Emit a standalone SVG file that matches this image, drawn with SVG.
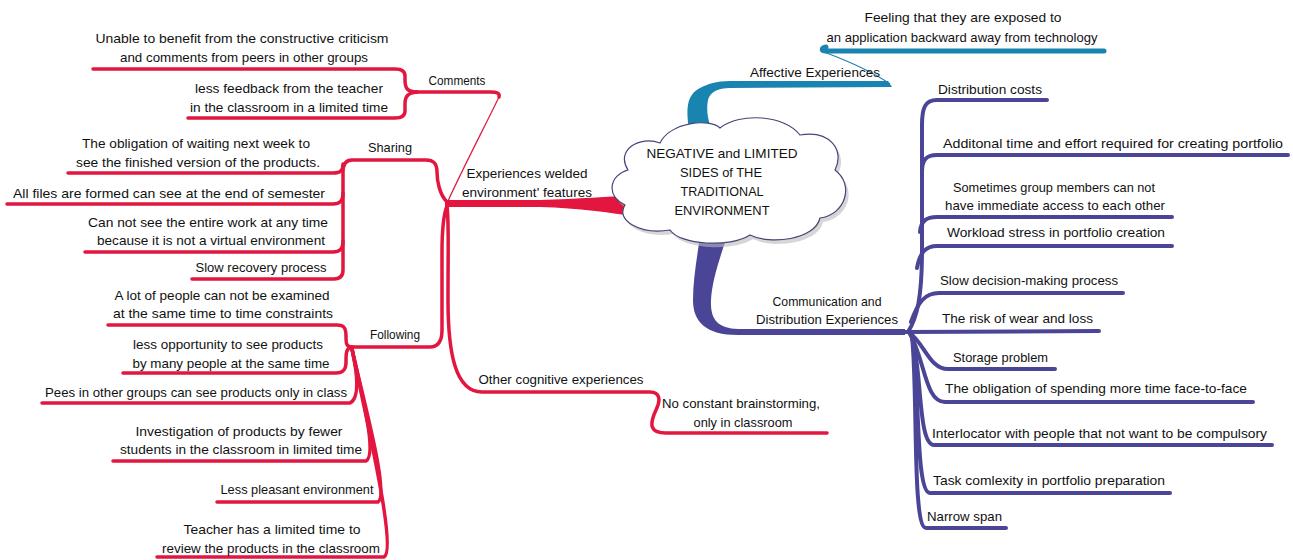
<svg xmlns="http://www.w3.org/2000/svg" width="1293" height="560" viewBox="0 0 1293 560">
<style>
text{font-family:"Liberation Sans",Arial,sans-serif;font-size:13.5px;fill:#111;}
.m{text-anchor:middle;}
.r{fill:none;stroke:#e2163f;stroke-width:3.5;stroke-linecap:round;stroke-linejoin:round;}
.rt{fill:none;stroke:#e2163f;stroke-width:1.2;stroke-linecap:round;}
.b{fill:none;stroke:#1a84b0;stroke-width:5;stroke-linecap:round;}
.bt{fill:none;stroke:#1a84b0;stroke-width:1.2;}
.p{fill:none;stroke:#4a4596;stroke-width:4;stroke-linecap:round;stroke-linejoin:round;}
</style>
<rect width="1293" height="560" fill="#ffffff"/>
<g id="connectors">
  <path d="M445,200 L540,200 C580,199 610,196 630,196 L633,216 C610,213 580,208 540,207 L445,207 Z" fill="#e2163f"/>
  <path class="rt" d="M448,201 C462,170 488,120 499,97"/>
  <path class="r" d="M499,97 C500,93 497,92 490,92 L417,92"/>
  <path class="r" d="M417,92 C407,92 405,88 405,80 L405,76 C405,71 401,69 395,69 L93,69"/>
  <path class="r" d="M417,92 C407,93 405,97 405,104 L405,111 C405,116 401,118 395,118 L188,118"/>
  <path class="r" d="M447,202 C440,195 437,182 437,172 C437,163 433,160 426,160 L352,160 C346,160 343,164 343,172 L343,270 C343,276 340,279 334,279 L192,279"/>
  <path class="r" d="M343,164 C343,171 340,173 333,173 L68,173"/>
  <path class="r" d="M343,193 C343,201 340,204 333,204 L7,204"/>
  <path class="r" d="M343,241 C343,249 340,252 333,252 L85,252"/>
  <path class="r" d="M447,206 C443,216 442,232 442,252 L442,330 C442,342 438,347 430,347 L352,347"/>
  <path class="r" d="M352,347 C346,347 346,343 346,336 C346,328 344,325 337,325 L108,325"/>
  <path class="r" d="M352,347 C346,348 346,353 346,362 C346,370 343,373 336,373 L123,373"/>
  <path class="r" d="M352,349 C357,372 360,398 350,403 L42,403"/>
  <path class="r" d="M352,349 C360,385 378,455 366,461 L113,461"/>
  <path class="r" d="M352,349 C362,395 390,495 378,502 L217,502"/>
  <path class="r" d="M352,349 C364,410 398,550 384,557 L157,557"/>
  <path class="r" d="M447,206 C449,220 448,245 448,300 C448,352 455,392 482,392 L650,392 C660,392 661,400 656,410 C649,425 650,433 666,433 L827,433"/>
  <path d="M689,130 C686,110 686,95 700,88 C708,84 716,81 730,81 L888,81 L892,87 L730,88 C718,88 710,92 708,100 C706,110 708,120 711,128 Z" fill="#1a84b0"/>
  <path class="bt" d="M890,84 C870,70 840,58 824,52"/>
  <path class="b" d="M826,47 C821,48 821,51 826,51 L1104,51"/>
  <path d="M700,236 L727,236 C720,258 712,280 711,300 C710,322 720,329 742,329 L905,329 L905,335 L738,335 C706,335 693,322 693,300 C693,280 697,258 700,236 Z" fill="#4a4596"/>
  <path class="p" d="M908,332 C917,318 922,298 922,250 L922,125 C922,108 925,100 937,100 L1047,100"/>
  <path class="p" d="M922,172 C922,160 926,155 937,155 L1288,155"/>
  <path class="p" d="M920,232 C921,221 926,217 937,217 L1172,217"/>
  <path class="p" d="M917,268 C920,252 926,246 937,246 L1172,246"/>
  <path class="p" d="M911,322 C918,302 925,293 939,293 L1123,293"/>
  <path class="p" d="M903,332 L1099,331"/>
  <path class="p" d="M910,333 C925,345 930,369 948,369 L1055,369"/>
  <path class="p" d="M910,334 C925,360 925,402 945,402 L1253,402"/>
  <path class="p" d="M912,335 C922,372 918,445 934,445 L1272,445"/>
  <path class="p" d="M912,336 C920,382 915,493 930,493 L1170,493"/>
  <path class="p" d="M912,336 C918,392 912,528 926,528 L1006,528"/>
</g>
<g id="center">
  <path d="M631,174 C618,154 643,139 663,147 C673,126 713,122 723,132 C743,116 788,119 803,139 C833,134 848,154 838,174 C858,189 848,219 823,222 C818,244 773,249 753,239 C733,252 683,249 673,234 C643,239 618,224 628,209 C608,199 613,179 631,174 Z" fill="#bbbbbb" opacity="0.6"/>
  <path d="M628,170 C615,150 640,135 660,143 C670,122 710,118 720,128 C740,112 785,115 800,135 C830,130 845,150 835,170 C855,185 845,215 820,218 C815,240 770,245 750,235 C730,248 680,245 670,230 C640,235 615,220 625,205 C605,195 610,175 628,170 Z" fill="#ffffff" stroke="#45457a" stroke-width="1.2"/>
  <text class="m" x="722" y="158" textLength="151" lengthAdjust="spacingAndGlyphs">NEGATIVE and LIMITED</text>
  <text class="m" x="721" y="177" textLength="82" lengthAdjust="spacingAndGlyphs">SIDES of THE</text>
  <text class="m" x="722" y="196" textLength="83" lengthAdjust="spacingAndGlyphs">TRADITIONAL</text>
  <text class="m" x="722" y="215" textLength="95" lengthAdjust="spacingAndGlyphs">ENVIRONMENT</text>
</g>
<g id="n-unable"><text class="m" x="242" y="43" textLength="293" lengthAdjust="spacingAndGlyphs">Unable to benefit from the constructive criticism</text><text class="m" x="244" y="62" textLength="248" lengthAdjust="spacingAndGlyphs">and comments from peers in other groups</text></g>
<g id="n-lessfeedback"><text class="m" x="289" y="93" textLength="188" lengthAdjust="spacingAndGlyphs">less feedback from the teacher</text><text class="m" x="289" y="112" textLength="198" lengthAdjust="spacingAndGlyphs">in the classroom in a limited time</text></g>
<g id="n-comments"><text class="m" x="457" y="85" textLength="57" lengthAdjust="spacingAndGlyphs">Comments</text></g>
<g id="n-sharing"><text class="m" x="390" y="152" textLength="44" lengthAdjust="spacingAndGlyphs">Sharing</text></g>
<g id="n-obligation"><text class="m" x="196" y="148" textLength="228" lengthAdjust="spacingAndGlyphs">The obligation of waiting next week to</text><text class="m" x="198" y="167" textLength="244" lengthAdjust="spacingAndGlyphs">see the finished version of the products.</text></g>
<g id="n-allfiles"><text class="m" x="169" y="198" textLength="312" lengthAdjust="spacingAndGlyphs">All files are formed can see at the end of semester</text></g>
<g id="n-cannotsee"><text class="m" x="208" y="227" textLength="240" lengthAdjust="spacingAndGlyphs">Can not see the entire work at any time</text><text class="m" x="211" y="245" textLength="228" lengthAdjust="spacingAndGlyphs">because it is not a virtual environment</text></g>
<g id="n-slowrecovery"><text class="m" x="261" y="272" textLength="131" lengthAdjust="spacingAndGlyphs">Slow recovery process</text></g>
<g id="n-alot"><text class="m" x="222" y="300" textLength="215" lengthAdjust="spacingAndGlyphs">A lot of people can not be examined</text><text class="m" x="223" y="318" textLength="220" lengthAdjust="spacingAndGlyphs">at the same time to time constraints</text></g>
<g id="n-following"><text class="m" x="395" y="339" textLength="50" lengthAdjust="spacingAndGlyphs">Following</text></g>
<g id="n-lessopp"><text class="m" x="228" y="349" textLength="190" lengthAdjust="spacingAndGlyphs">less opportunity to see products</text><text class="m" x="231" y="368" textLength="197" lengthAdjust="spacingAndGlyphs">by many people at the same time</text></g>
<g id="n-pees"><text class="m" x="196" y="397" textLength="302" lengthAdjust="spacingAndGlyphs">Pees in other groups can see products only in class</text></g>
<g id="n-investigation"><text class="m" x="239" y="436" textLength="207" lengthAdjust="spacingAndGlyphs">Investigation of products by fewer</text><text class="m" x="241" y="454" textLength="242" lengthAdjust="spacingAndGlyphs">students in the classroom in limited time</text></g>
<g id="n-lesspleasant"><text class="m" x="297" y="494" textLength="153" lengthAdjust="spacingAndGlyphs">Less pleasant environment</text></g>
<g id="n-teacher"><text class="m" x="272" y="534" textLength="177" lengthAdjust="spacingAndGlyphs">Teacher has a limited time to</text><text class="m" x="271" y="553" textLength="218" lengthAdjust="spacingAndGlyphs">review the products in the classroom</text></g>
<g id="n-welded"><text class="m" x="527" y="178" textLength="121" lengthAdjust="spacingAndGlyphs">Experiences welded</text><text class="m" x="527" y="197" textLength="130" lengthAdjust="spacingAndGlyphs">environment' features</text></g>
<g id="n-othercog"><text class="m" x="561" y="384" textLength="165" lengthAdjust="spacingAndGlyphs">Other cognitive experiences</text></g>
<g id="n-noconstant"><text class="m" x="741" y="408" textLength="158" lengthAdjust="spacingAndGlyphs">No constant brainstorming,</text><text class="m" x="743" y="427" textLength="99" lengthAdjust="spacingAndGlyphs">only in classroom</text></g>
<g id="n-affective"><text class="m" x="815" y="77" textLength="130" lengthAdjust="spacingAndGlyphs">Affective Experiences</text></g>
<g id="n-feeling"><text class="m" x="963" y="22" textLength="197" lengthAdjust="spacingAndGlyphs">Feeling that they are exposed to</text><text class="m" x="962" y="42" textLength="271" lengthAdjust="spacingAndGlyphs">an application backward away from technology</text></g>
<g id="n-communication"><text class="m" x="827" y="306" textLength="109" lengthAdjust="spacingAndGlyphs">Communication and</text><text class="m" x="827" y="324" textLength="142" lengthAdjust="spacingAndGlyphs">Distribution Experiences</text></g>
<g id="n-distcosts"><text x="938" y="94" textLength="104" lengthAdjust="spacingAndGlyphs">Distribution costs</text></g>
<g id="n-additonal"><text x="943" y="148" textLength="340" lengthAdjust="spacingAndGlyphs">Additonal time and effort required for creating portfolio</text></g>
<g id="n-sometimes"><text class="m" x="1054" y="192" textLength="202" lengthAdjust="spacingAndGlyphs">Sometimes group members can not</text><text class="m" x="1055" y="210" textLength="220" lengthAdjust="spacingAndGlyphs">have immediate access to each other</text></g>
<g id="n-workload"><text x="947" y="237" textLength="218" lengthAdjust="spacingAndGlyphs">Workload stress in portfolio creation</text></g>
<g id="n-slowdecision"><text x="940" y="285" textLength="178" lengthAdjust="spacingAndGlyphs">Slow  decision-making process</text></g>
<g id="n-risk"><text x="942" y="323" textLength="151" lengthAdjust="spacingAndGlyphs">The risk of wear and loss</text></g>
<g id="n-storage"><text x="953" y="362" textLength="95" lengthAdjust="spacingAndGlyphs">Storage problem</text></g>
<g id="n-spending"><text x="945" y="393" textLength="302" lengthAdjust="spacingAndGlyphs">The obligation of spending more time face-to-face</text></g>
<g id="n-interlocator"><text x="932" y="438" textLength="335" lengthAdjust="spacingAndGlyphs">Interlocator with people that not want to be compulsory</text></g>
<g id="n-task"><text x="933" y="485" textLength="232" lengthAdjust="spacingAndGlyphs">Task comlexity in portfolio preparation</text></g>
<g id="n-narrow"><text x="927" y="521" textLength="75" lengthAdjust="spacingAndGlyphs">Narrow span</text></g>
</svg>
